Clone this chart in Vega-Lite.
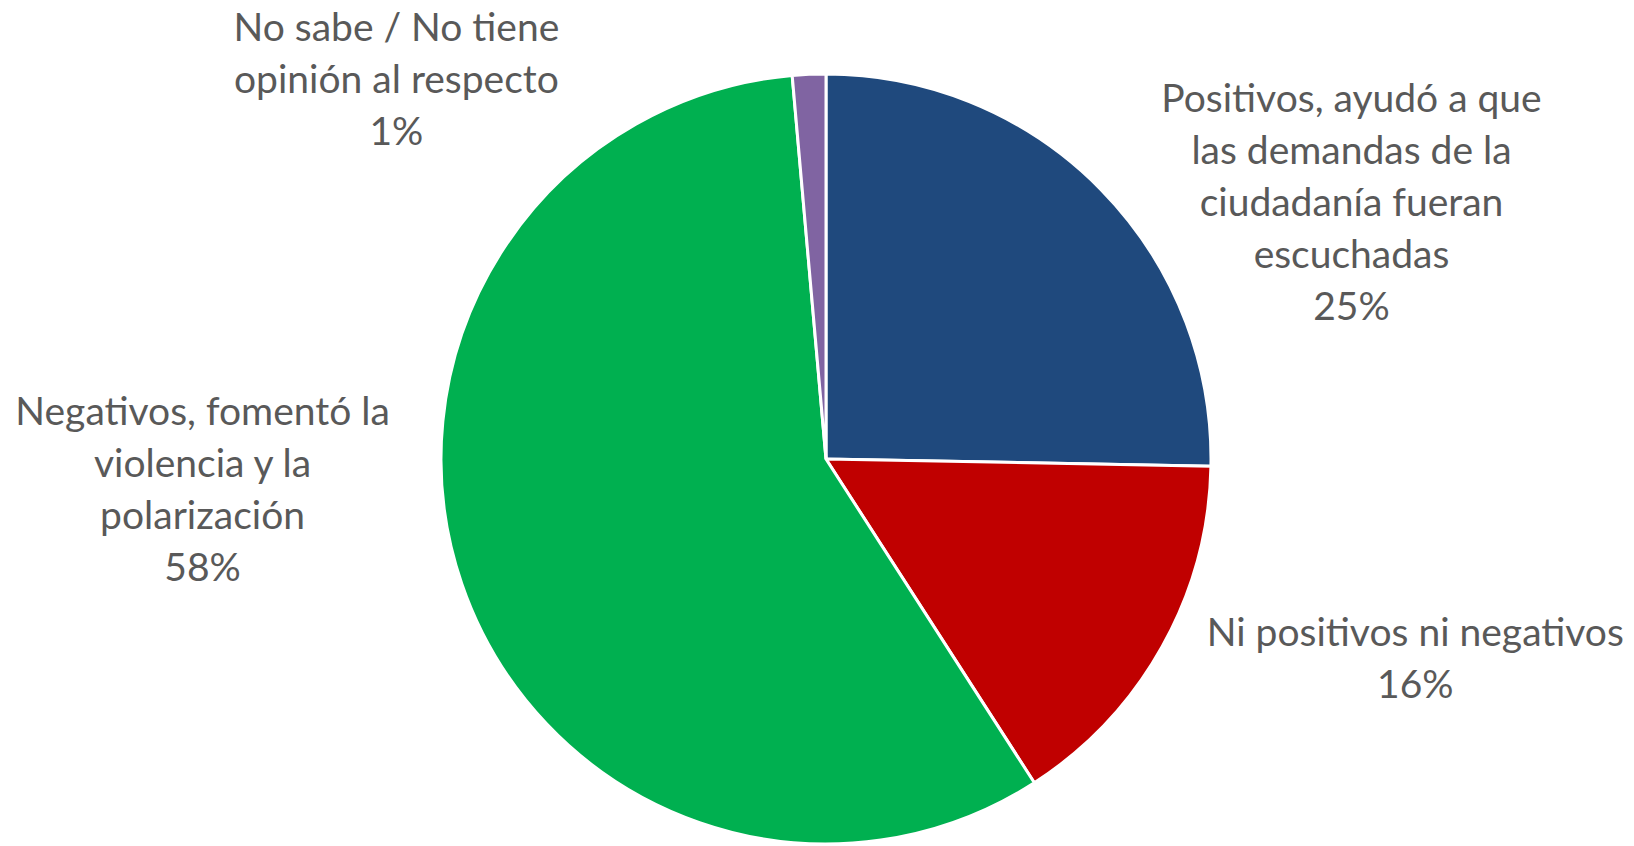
{
  "$schema": "https://vega.github.io/schema/vega-lite/v6.json",
  "autosize": {"type": "none"},
  "width": 1616,
  "height": 774,
  "padding": {"left": 18, "top": 72, "right": 0, "bottom": 0},
  "background": "white",
  "config": {"view": {"stroke": null}},
  "data": {
    "values": [
      {"cat": "Positivos, ayudó a que las demandas de la ciudadanía fueran escuchadas", "orden": 1, "value": 25.3, "label": "Positivos, ayudó a que\nlas demandas de la\nciudadanía fueran\nescuchadas\n25%"},
      {"cat": "Ni positivos ni negativos", "orden": 2, "value": 15.6, "label": "Ni positivos ni negativos\n16%"},
      {"cat": "Negativos, fomentó la violencia y la polarización", "orden": 3, "value": 57.7, "label": "Negativos, fomentó la\nviolencia y la\npolarización\n58%"},
      {"cat": "No sabe / No tiene opinión al respecto", "orden": 4, "value": 1.4, "label": "No sabe / No tiene\nopinión al respecto\n1%"}
    ]
  },
  "layer": [
    {
      "mark": {"type": "arc", "outerRadius": 385, "stroke": "white", "strokeWidth": 3},
      "encoding": {
        "theta": {"field": "value", "type": "quantitative", "stack": true},
        "order": {"field": "orden", "type": "quantitative"},
        "color": {
          "field": "cat", "type": "nominal", "legend": null,
          "scale": {
            "domain": ["Positivos, ayudó a que las demandas de la ciudadanía fueran escuchadas", "Ni positivos ni negativos", "Negativos, fomentó la violencia y la polarización", "No sabe / No tiene opinión al respecto"],
            "range": ["#1F497D", "#C00000", "#00B050", "#8064A2"]
          }
        }
      }
    },
    {
      "mark": {"type": "text", "radius": 400, "dx": 240, "dy": -79, "align": "center", "baseline": "middle", "font": "Lato", "fontSize": 39, "color": "#595959", "lineBreak": "\n", "lineHeight": 52},
      "encoding": {
        "theta": {"field": "value", "type": "quantitative", "stack": true},
        "order": {"field": "orden", "type": "quantitative"},
        "text": {"condition": {"test": "datum.orden === 1", "field": "label"}, "value": ""}
      }
    },
    {
      "mark": {"type": "text", "radius": 400, "dx": 240, "dy": -20, "align": "center", "baseline": "middle", "font": "Lato", "fontSize": 39, "color": "#595959", "lineBreak": "\n", "lineHeight": 52},
      "encoding": {
        "theta": {"field": "value", "type": "quantitative", "stack": true},
        "order": {"field": "orden", "type": "quantitative"},
        "text": {"condition": {"test": "datum.orden === 2", "field": "label"}, "value": ""}
      }
    },
    {
      "mark": {"type": "text", "radius": 400, "dx": -245, "dy": -176, "align": "center", "baseline": "middle", "font": "Lato", "fontSize": 39, "color": "#595959", "lineBreak": "\n", "lineHeight": 52},
      "encoding": {
        "theta": {"field": "value", "type": "quantitative", "stack": true},
        "order": {"field": "orden", "type": "quantitative"},
        "text": {"condition": {"test": "datum.orden === 3", "field": "label"}, "value": ""}
      }
    },
    {
      "mark": {"type": "text", "radius": 400, "dx": -412, "dy": -30, "align": "center", "baseline": "middle", "font": "Lato", "fontSize": 39, "color": "#595959", "lineBreak": "\n", "lineHeight": 52},
      "encoding": {
        "theta": {"field": "value", "type": "quantitative", "stack": true},
        "order": {"field": "orden", "type": "quantitative"},
        "text": {"condition": {"test": "datum.orden === 4", "field": "label"}, "value": ""}
      }
    }
  ]
}
